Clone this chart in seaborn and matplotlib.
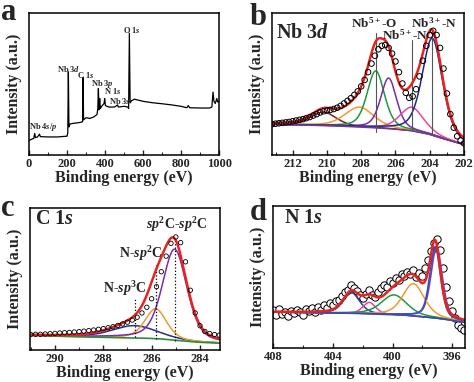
import numpy as np
import pandas as pd
import seaborn as sns
import matplotlib.pyplot as plt
from matplotlib.ticker import MultipleLocator

sns.set_style("ticks")
plt.rcParams['font.family'] = ['Liberation Serif', 'DejaVu Serif']
plt.rcParams['font.weight'] = 'bold'
plt.rcParams['mathtext.fontset'] = 'custom'
plt.rcParams['mathtext.rm'] = 'Liberation Serif:bold'
plt.rcParams['mathtext.it'] = 'Liberation Serif:italic:bold'
plt.rcParams['mathtext.bf'] = 'Liberation Serif:bold'

# ---- (a) survey spectrum ----
survey_ev = [0, 8, 15, 25, 30, 34, 45, 55, 60, 100, 150, 195, 200, 204, 207, 210, 215,
             230, 260, 280, 282, 284.5, 287, 300, 320, 340, 355, 358, 362, 365, 368, 372,
             375, 380, 385, 395, 398, 402, 420, 450, 466, 470, 500, 520, 524, 528, 532,
             540, 555, 600, 650, 700, 750, 800, 830, 838, 845, 900, 950, 962, 968, 973,
             980, 988, 993, 1000]
survey_int = [10.5, 11.0, 11.5, 12.0, 15.5, 12.5, 13.0, 15.0, 13.2, 13.0, 13.0, 13.5, 13.5,
              16.0, 58.7, 20.0, 22.0, 22.5, 23.0, 23.5, 24.0, 54.7, 25.0, 26.5, 26.0, 27.0,
              28.5, 29.0, 33.0, 47.0, 32.0, 40.0, 33.0, 34.0, 35.0, 36.5, 40.0, 35.0, 34.0,
              34.0, 35.5, 34.0, 34.5, 34.0, 33.0, 85.7, 37.0, 38.5, 39.5, 38.0, 37.0, 36.3,
              35.5, 34.5, 33.5, 35.0, 33.5, 33.3, 33.3, 34.0, 44.5, 38.0, 36.5, 40.0, 37.5,
              38.0]
survey_labels = ["Nb 4$s$/$p$", "Nb 3$d$", "C 1$s$", "Nb 3$p$", "N 1$s$", "Nb 3$s$", "O 1$s$"]
survey_ticks = [0, 200, 400, 600, 800, 1000]

# ---- (b) Nb 3d ----
nb_ev = [213.2, 213.0, 212.8, 212.6, 212.4, 212.2, 212.0, 211.8, 211.6, 211.4, 211.2,
         211.0, 210.8, 210.6, 210.4, 210.2, 210.0, 209.8, 209.6, 209.4, 209.2, 209.0,
         208.8, 208.6, 208.4, 208.2, 208.0, 207.8, 207.6, 207.4, 207.2, 207.0, 206.8,
         206.6, 206.4, 206.2, 206.0, 205.8, 205.6, 205.4, 205.2, 205.0, 204.8, 204.6,
         204.4, 204.2, 204.0, 203.8, 203.6, 203.4, 203.2, 203.0, 202.8, 202.6, 202.4,
         202.2, 202.0]
nb_int = [22.0, 22.3, 22.6, 22.9, 23.2, 23.5, 24.0, 24.5, 25.0, 25.5, 26.2, 27.0, 28.0,
          29.0, 30.2, 31.0, 31.6, 32.0, 32.6, 33.5, 34.8, 36.5, 38.3, 40.2, 42.5, 45.0,
          48.5, 53.0, 58.5, 64.5, 70.0, 74.5, 77.0, 77.5, 75.5, 71.5, 66.0, 58.5, 50.5,
          44.0, 40.5, 41.5, 46.5, 55.5, 66.5, 77.0, 84.5, 87.5, 84.5, 75.5, 61.0, 43.5,
          29.0, 19.5, 13.5, 10.5, 8.5]
nb_bkg_ev = [202.0, 203.0, 204.0, 205.0, 206.0, 207.0, 209.0, 211.0, 213.2]
nb_bkg_int = [7.6, 11.0, 14.8, 17.3, 18.5, 19.3, 20.5, 21.3, 21.8]
nb_centers = [210.2, 208.1, 207.15, 206.4, 205.05, 203.85]
nb_heights = [9.5, 14.0, 40.0, 35.5, 16.5, 68.0]
nb_fwhm = [1.75, 2.0, 1.2, 1.1, 1.65, 1.4]
nb_colors = ['#8B1C1C', '#F39A2E', '#1E9A3C', '#7A2DA6', '#E8479E', '#1F2A8F']
nb_peak_names = ["Nb$^{5+}$-O", "Nb$^{5+}$-N", "Nb$^{3+}$-N"]
nb_peak_ev = [207.15, 205.06, 203.85]
nb_ticks = [212, 210, 208, 206, 204, 202]

# ---- (c) C 1s ----
c_ev = [291.0, 290.8, 290.6, 290.4, 290.2, 290.0, 289.8, 289.6, 289.4, 289.2, 289.0,
        288.8, 288.6, 288.4, 288.2, 288.0, 287.8, 287.6, 287.4, 287.2, 287.0, 286.8,
        286.6, 286.4, 286.2, 286.0, 285.8, 285.6, 285.4, 285.2, 285.0, 284.8, 284.6,
        284.4, 284.2, 284.0, 283.8, 283.6, 283.4, 283.2]
c_int = [10.8, 11.0, 11.0, 11.2, 11.4, 11.6, 11.9, 12.1, 12.3, 12.6, 12.9, 13.2, 13.6,
         14.0, 14.5, 15.0, 15.6, 16.3, 17.2, 18.3, 19.5, 21.0, 23.0, 26.0, 30.0, 36.0,
         44.5, 55.0, 66.0, 75.0, 79.5, 75.5, 62.0, 42.0, 26.0, 17.0, 13.0, 11.5, 10.8,
         10.4]
c_bkg_ev = [283.17, 284.0, 284.5, 285.0, 285.5, 286.0, 287.0, 289.0, 291.03]
c_bkg_int = [4.7, 5.3, 6.0, 6.8, 7.6, 8.1, 8.5, 9.2, 10.2]
c_centers = [286.7, 285.83, 285.05]
c_heights = [8.7, 21.0, 64.0]
c_fwhm = [2.2, 1.05, 1.2]
c_colors = ['#25308F', '#F39A2E', '#7A2DB0']
c_peak_names = ["N-$sp^3$C", "N-$sp^2$C", "$sp^2$C-$sp^2$C"]
c_ticks = [290, 288, 286, 284]

# ---- (d) N 1s ----
n_ev = [408.0, 407.8, 407.6, 407.4, 407.2, 407.0, 406.8, 406.6, 406.4, 406.2, 406.0,
        405.8, 405.6, 405.4, 405.2, 405.0, 404.8, 404.6, 404.4, 404.2, 404.0, 403.8,
        403.6, 403.4, 403.2, 403.0, 402.8, 402.6, 402.4, 402.2, 402.0, 401.8, 401.6,
        401.4, 401.2, 401.0, 400.8, 400.6, 400.4, 400.2, 400.0, 399.8, 399.6, 399.4,
        399.2, 399.0, 398.8, 398.6, 398.4, 398.2, 398.0, 397.8, 397.6, 397.4, 397.2,
        397.0, 396.8, 396.6, 396.4, 396.2, 396.0, 395.8, 395.6, 395.4, 395.2]
n_int = [26.5, 23.5, 27.5, 24.0, 25.5, 22.8, 26.0, 24.5, 27.0, 25.0, 23.5, 27.5, 26.0,
         28.5, 25.5, 29.0, 27.0, 30.5, 28.5, 31.5, 30.0, 33.0, 34.0, 36.5, 39.5, 41.0,
         44.0, 42.5, 40.0, 37.0, 35.5, 38.0, 40.5, 37.5, 36.0, 39.5, 42.0, 44.5, 43.0,
         47.0, 45.5, 49.5, 48.0, 52.0, 50.5, 53.5, 52.0, 55.0, 50.0, 53.0, 50.5, 56.0,
         62.0, 68.0, 74.0, 76.5, 69.0, 56.0, 43.0, 33.0, 26.0, 21.0, 16.5, 14.0, 12.5]
n_bkg_ev = [395.15, 396.0, 397.0, 399.0, 402.0, 408.0]
n_bkg_int = [18.0, 19.5, 21.0, 23.0, 24.3, 25.3]
n_centers = [402.75, 401.55, 399.9, 398.6, 397.15]
n_heights = [14.5, 8.0, 14.0, 22.7, 50.0]
n_fwhm = [1.3, 1.0, 2.0, 1.7, 0.85]
n_colors = ['#2A3A9E', '#E8479E', '#1E9A3C', '#F39A2E', '#3050C8']
n_ticks = [408, 404, 400, 396]


def pvoigt(x, c, h, fwhm, eta=0.4):
    s = fwhm / 2.3548
    g = np.exp(-(x - c) ** 2 / (2 * s * s))
    l = 1.0 / (1.0 + ((x - c) / (fwhm / 2)) ** 2)
    return h * ((1 - eta) * g + eta * l)


def style_axis(ax, xlim, ticks, minor):
    ax.set_xticks(ticks, labels=[str(t) for t in ticks], fontweight='bold', fontsize=9)
    ax.xaxis.set_minor_locator(MultipleLocator(minor))
    ax.set_xlim(*xlim)
    ax.set_ylim(0, 100)
    ax.set_yticks([])
    ax.tick_params(axis='x', which='major', direction='in', length=3.5, width=1, pad=2)
    ax.tick_params(axis='x', which='minor', direction='in', length=2, width=0.8)
    for sp in ax.spines.values():
        sp.set_visible(True)
        sp.set_linewidth(1.1)
        sp.set_color('black')
    ax.set_xlabel("Binding energy (eV)", fontsize=11.5, fontweight='bold', labelpad=0)
    ax.set_ylabel("Intensity (a.u.)", fontsize=11.5, fontweight='bold', labelpad=5)


def draw_fit(ax, grid, bkg, centers, heights, fwhm, colors, lw=1.1):
    total = bkg.copy()
    for c, h, w, col in zip(centers, heights, fwhm, colors):
        comp = pvoigt(grid, c, h, w)
        total = total + comp
        sns.lineplot(x=grid, y=bkg + comp, ax=ax, color=col, lw=lw,
                     estimator=None, sort=False)
    return total


fig = plt.figure(figsize=(4.74, 3.82), dpi=100)
ax_a = fig.add_axes([0.0612, 0.593, 0.401, 0.373])
ax_b = fig.add_axes([0.574, 0.593, 0.405, 0.373])
ax_c = fig.add_axes([0.0633, 0.084, 0.401, 0.372])
ax_d = fig.add_axes([0.576, 0.089, 0.405, 0.372])

# (a)
sns.lineplot(x=survey_ev, y=survey_int, ax=ax_a, color='black', lw=0.9,
             estimator=None, sort=False)
style_axis(ax_a, (0, 1000), survey_ticks, 100)
a_lab_pos = [(2, 20), (146, 61), (250, 56.5), (326, 50), (392, 45.5), (420, 38.5), (496, 88)]
for txt, (x, y) in zip(survey_labels, a_lab_pos):
    ax_a.text(x, y, txt, fontsize=6, fontweight='bold', ha='left', va='center')

# (b)
grid_b = np.linspace(202.0, 213.2, 400)
bkg_b = np.interp(grid_b, nb_bkg_ev, nb_bkg_int)
env_b = draw_fit(ax_b, grid_b, bkg_b, nb_centers, nb_heights, nb_fwhm, nb_colors)
sns.lineplot(x=grid_b, y=bkg_b, ax=ax_b, color='#6A3D8F', lw=1.1, estimator=None, sort=False)
for e, y0, y1 in zip(nb_peak_ev, [16.5, 18.0, 14.5], [86, 81, 89]):
    sns.lineplot(x=[e, e], y=[y0, y1], ax=ax_b, color='#555555', lw=0.8,
                 estimator=None, sort=False)
sns.lineplot(x=grid_b, y=env_b, ax=ax_b, color='#E8231F', lw=1.8, estimator=None, sort=False)
sns.scatterplot(x=nb_ev, y=nb_int, ax=ax_b, marker='o', s=16, facecolor='none',
                edgecolor='black', linewidth=0.7, zorder=5)
style_axis(ax_b, (213.2, 202.0), nb_ticks, 1)
ax_b.text(0.02, 0.86, "Nb 3$d$", transform=ax_b.transAxes, fontsize=14.5,
          ha='left', va='center')
for txt, (x, y) in zip(nb_peak_names, [(207.25, 92.5), (205.45, 84), (203.75, 93)]):
    ax_b.text(x, y, txt, fontsize=9.5, ha='center', va='center')

# (c)
grid_c = np.linspace(283.17, 291.03, 400)
bkg_c = np.interp(grid_c, c_bkg_ev, c_bkg_int)
env_c = draw_fit(ax_c, grid_c, bkg_c, c_centers, c_heights, c_fwhm, c_colors)
sns.lineplot(x=grid_c, y=bkg_c, ax=ax_c, color='#2E8B3E', lw=1.2, estimator=None, sort=False)
for e, y0, y1 in zip(c_centers, [8.9, 7.7, 6.5], [36.5, 61.5, 78]):
    sns.lineplot(x=[e, e], y=[y0, y1], ax=ax_c, color='black', lw=0.9, ls=':',
                 estimator=None, sort=False)
sns.lineplot(x=grid_c, y=env_c, ax=ax_c, color='#E8231F', lw=1.8, estimator=None, sort=False)
sns.scatterplot(x=c_ev, y=c_int, ax=ax_c, marker='o', s=10, facecolor='none',
                edgecolor='black', linewidth=0.6, zorder=5)
style_axis(ax_c, (291.03, 283.17), c_ticks, 1)
ax_c.text(0.026, 0.92, "C 1$s$", transform=ax_c.transAxes, fontsize=14.5,
          ha='left', va='center')
for txt, (x, y) in zip(c_peak_names, [(287.1, 43), (286.45, 67.5), (284.97, 88.5)]):
    ax_c.text(x, y, txt, fontsize=10, ha='center', va='center')

# (d)
grid_d = np.linspace(395.15, 408.0, 400)
bkg_d = np.interp(grid_d, n_bkg_ev, n_bkg_int)
sns.lineplot(x=grid_d, y=bkg_d + pvoigt(grid_d, 397.05, 50.0, 0.9), ax=ax_d,
             color='#7F3FA0', lw=1.2, estimator=None, sort=False)
env_d = draw_fit(ax_d, grid_d, bkg_d, n_centers, n_heights, n_fwhm, n_colors)
sns.lineplot(x=grid_d, y=bkg_d, ax=ax_d, color='#3050B0', lw=1.2, estimator=None, sort=False)
sns.scatterplot(x=n_ev, y=n_int, ax=ax_d, marker='o', s=28, facecolor='white',
                edgecolor='black', linewidth=0.7, zorder=1)
sns.lineplot(x=grid_d, y=env_d, ax=ax_d, color='#E8231F', lw=1.8, estimator=None, sort=False)
style_axis(ax_d, (408.0, 395.15), n_ticks, 2)
ax_d.text(0.056, 0.917, "N 1$s$", transform=ax_d.transAxes, fontsize=14.5,
          ha='left', va='center')

# panel letters
for letter, (x, y) in zip("abcd", [(0.002, 0.947), (0.527, 0.935), (0.002, 0.435), (0.527, 0.425)]):
    fig.text(x, y, letter, fontsize=22, fontweight='bold', ha='left', va='baseline')

fig.savefig("out.png", dpi=100)
